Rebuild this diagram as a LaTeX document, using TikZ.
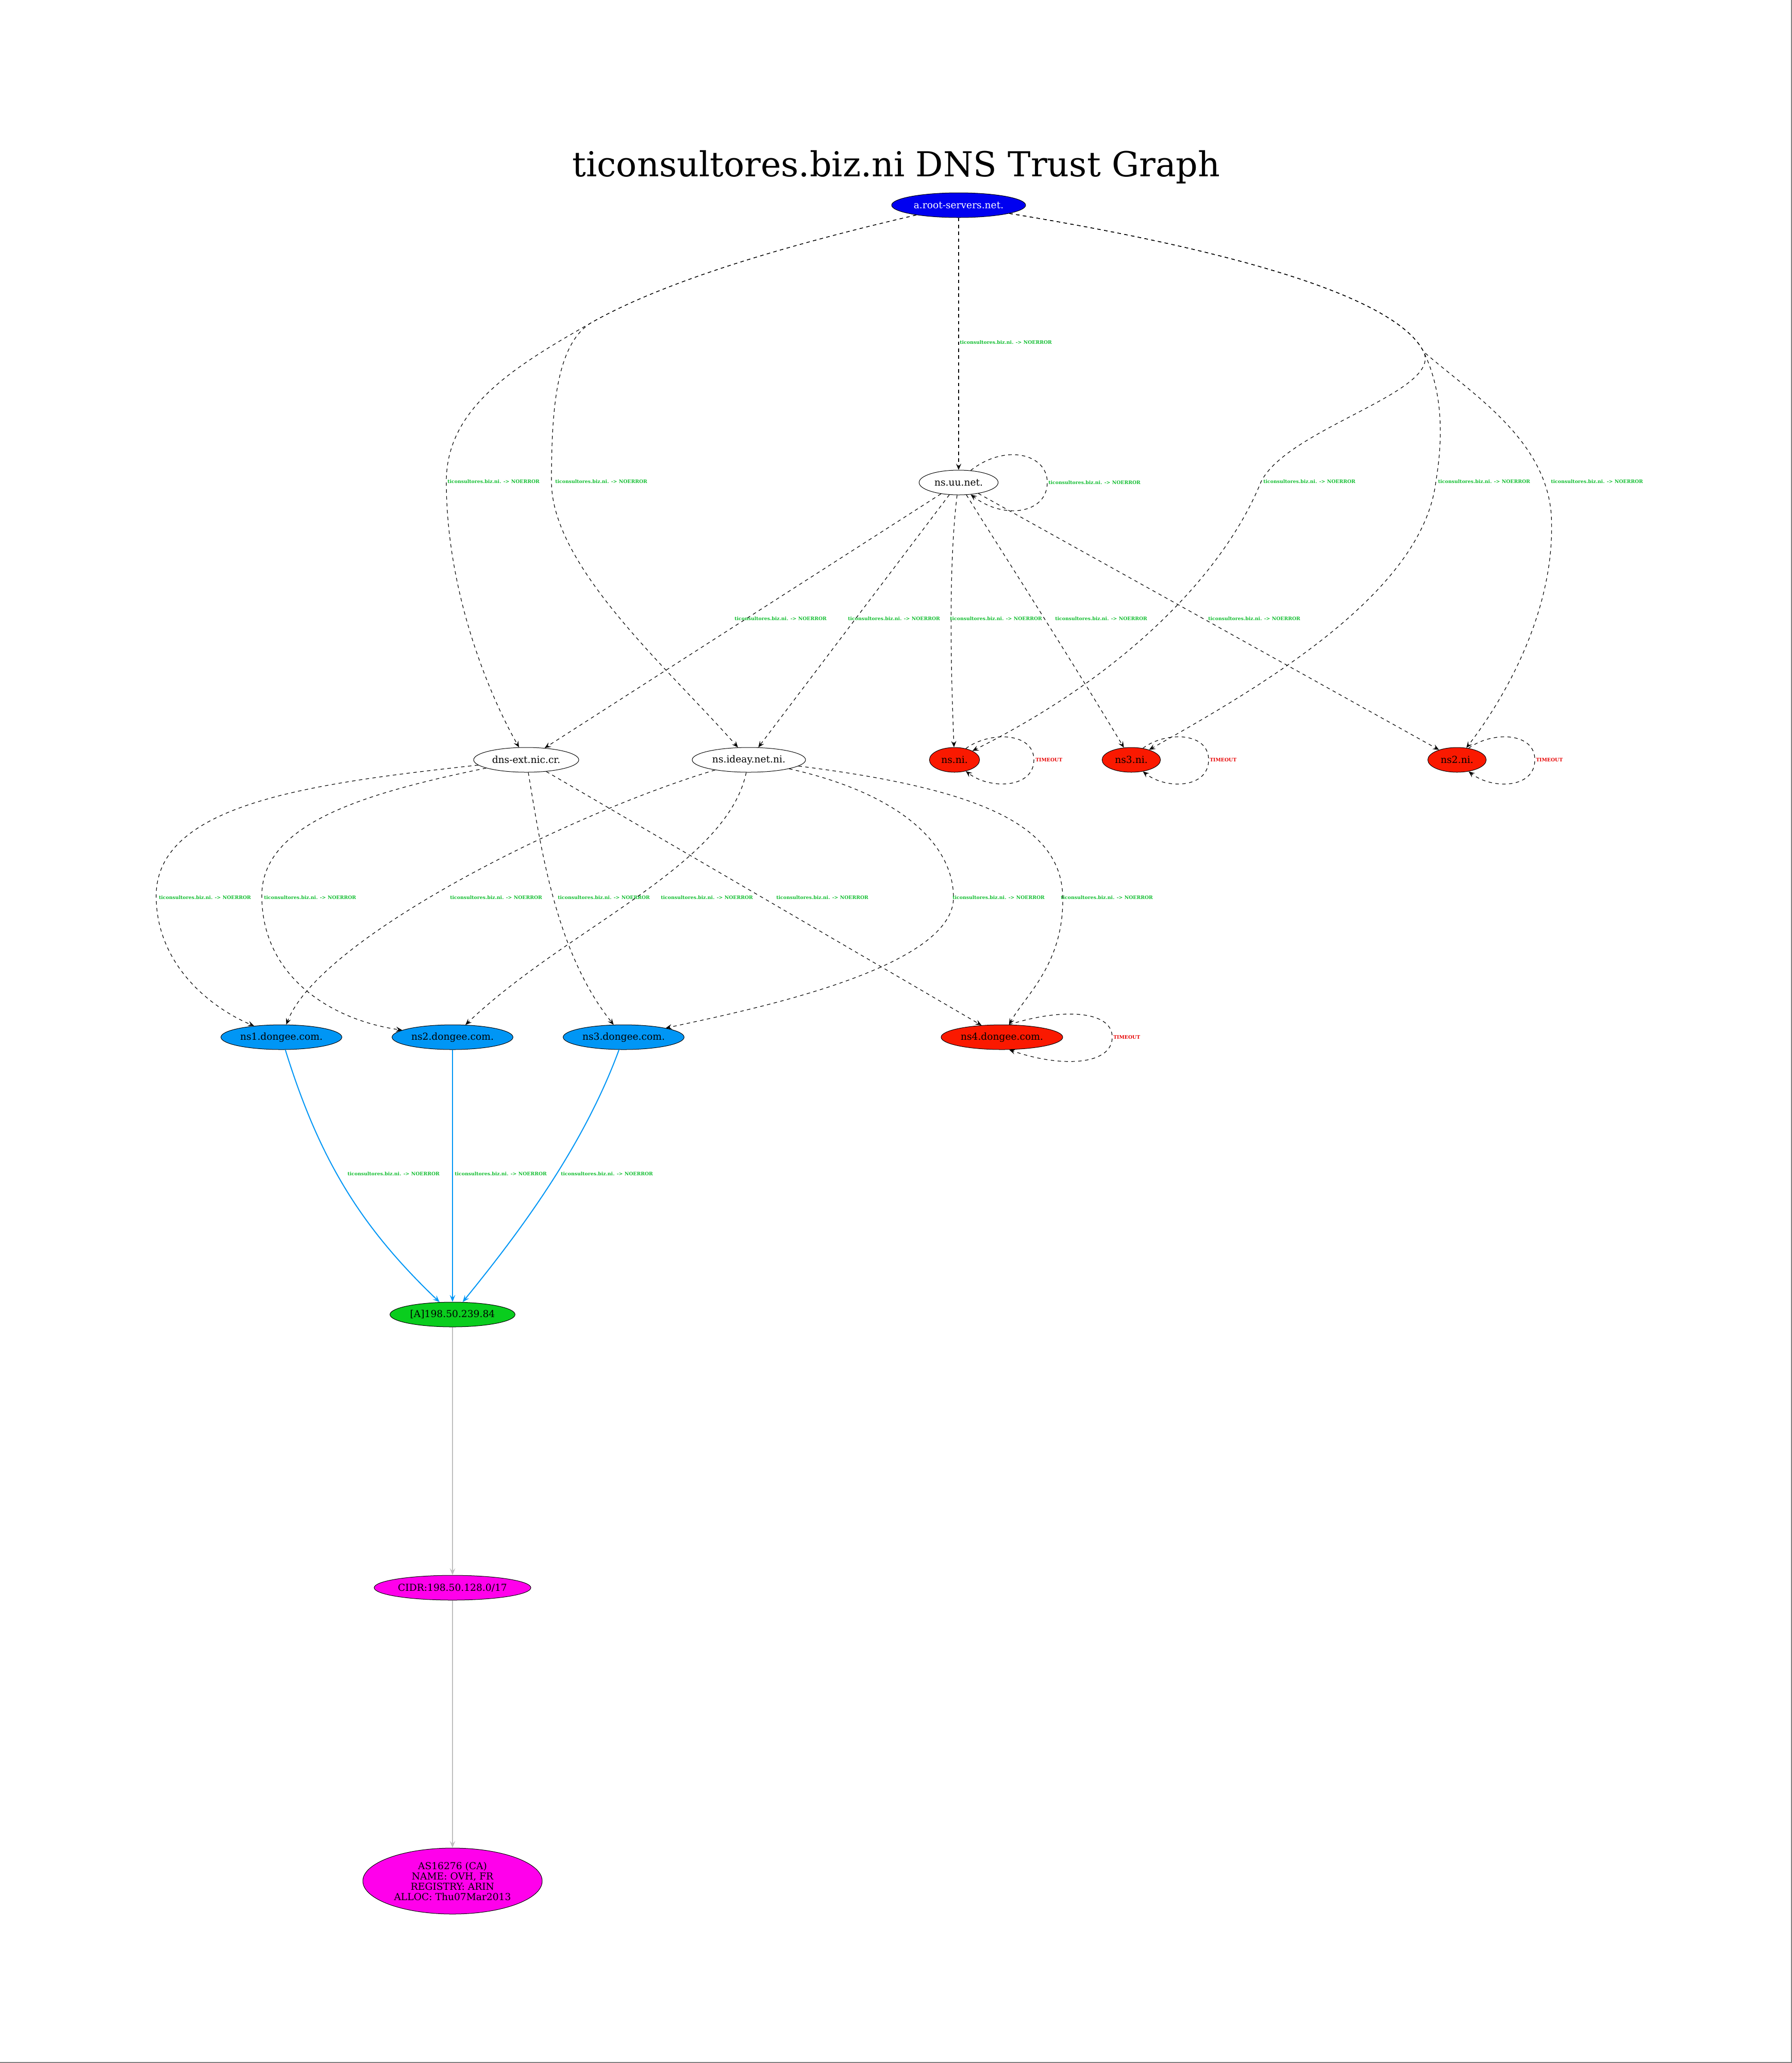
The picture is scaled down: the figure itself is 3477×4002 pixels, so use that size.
\documentclass[tikz,border=0pt]{standalone}
\usepackage{fontspec}
\setmainfont{DejaVu Serif}
\usetikzlibrary{arrows.meta,shapes.geometric}
\definecolor{rootblue}{RGB}{0,0,240}
\definecolor{errred}{RGB}{250,25,0}
\definecolor{dongblue}{RGB}{0,150,245}
\definecolor{agreen}{RGB}{10,205,30}
\definecolor{asmag}{RGB}{255,0,235}
\definecolor{lblgreen}{RGB}{20,190,50}
\definecolor{lblred}{RGB}{230,0,0}
\definecolor{edgegray}{RGB}{190,190,190}
\definecolor{framegray}{RGB}{128,128,128}
\begin{document}
\begin{tikzpicture}[x=0.75pt,y=-0.75pt,
  nd/.style={ellipse, draw=black, line width=0.75pt, inner sep=0pt, minimum height=36pt, font=\fontsize{14}{16}\selectfont, align=center},
  dep/.style={draw=black, line width=0.9pt, dash pattern=on 5pt off 5pt, -{Stealth[length=9pt,width=7.5pt,inset=3.5pt]}},
  blu/.style={draw=dongblue, line width=1.5pt, -{Stealth[length=10pt,width=8pt,inset=4pt]}},
  gry/.style={draw=edgegray, line width=1.2pt, -{Stealth[length=10pt,width=8pt,inset=4pt]}},
  elbl/.style={anchor=west, inner sep=0pt, text=lblgreen, font=\bfseries\fontsize{7}{8}\selectfont},
  tlbl/.style={anchor=west, inner sep=0pt, text=lblred, font=\bfseries\fontsize{7}{8}\selectfont}
]
\path[use as bounding box] (0,0) rectangle (3477,4002);
\draw[framegray, line width=1.5pt] (3476,0) -- (3476,4001) -- (0,4001);

\node[inner sep=0pt, font=\fontsize{50}{56}\selectfont] (title) at (1739,324) {ticonsultores.biz.ni DNS Trust Graph};

% nodes
\node[nd, fill=rootblue, text=white, minimum width=195pt] (root) at (1860,398) {a.root-servers.net.};
\node[nd, fill=white, minimum width=115pt] (uu) at (1860,936) {ns.uu.net.};
\node[nd, fill=white, minimum width=153pt] (dnsext) at (1021,1474) {dns-ext.nic.cr.};
\node[nd, fill=white, minimum width=165pt] (ideay) at (1453,1474) {ns.ideay.net.ni.};
\node[nd, fill=errred, minimum width=73pt] (nsni) at (1852,1474) {ns.ni.};
\node[nd, fill=errred, minimum width=85pt] (ns3ni) at (2195,1474) {ns3.ni.};
\node[nd, fill=errred, minimum width=85pt] (ns2ni) at (2827,1474) {ns2.ni.};
\node[nd, fill=dongblue, minimum width=176pt] (ns1d) at (546,2012) {ns1.dongee.com.};
\node[nd, fill=dongblue, minimum width=176pt] (ns2d) at (878,2012) {ns2.dongee.com.};
\node[nd, fill=dongblue, minimum width=176pt] (ns3d) at (1210,2012) {ns3.dongee.com.};
\node[nd, fill=errred, minimum width=177pt] (ns4d) at (1944,2012) {ns4.dongee.com.};
\node[nd, fill=agreen, minimum width=182pt] (aip) at (878,2550) {[A]198.50.239.84};
\node[nd, fill=asmag, minimum width=228pt] (cidr) at (878,3080) {CIDR:198.50.128.0/17};
\node[nd, fill=asmag, minimum width=261pt, minimum height=96pt, font=\fontsize{14}{15}\selectfont] (asn) at (878,3649) {AS16276 (CA)\\NAME: OVH, FR\\REGISTRY: ARIN\\ALLOC: Thu07Mar2013};

% root edges
\draw[dep] (root) -- (uu);
\node[elbl] (l1) at (1862,664) {ticonsultores.biz.ni. -> NOERROR};
\draw[dep] (root) .. controls (1550,470) and (1300,540) .. (1149,625) .. controls (1000,710) and (866,790) .. (866,934) .. controls (866,1150) and (950,1350) .. (dnsext);
\node[elbl] (l2) at (868,934) {ticonsultores.biz.ni. -> NOERROR};
\draw[dep] (root) .. controls (1550,470) and (1300,540) .. (1149,625) .. controls (1080,665) and (1070,790) .. (1070,934) .. controls (1070,1100) and (1300,1300) .. (ideay);
\node[elbl] (l3) at (1077,934) {ticonsultores.biz.ni. -> NOERROR};
\draw[dep] (root) .. controls (2300,470) and (2700,560) .. (2762,682) .. controls (2800,760) and (2500,830) .. (2447,934) .. controls (2380,1100) and (2200,1300) .. (nsni);
\node[elbl] (l4) at (2451,934) {ticonsultores.biz.ni. -> NOERROR};
\draw[dep] (root) .. controls (2300,470) and (2700,560) .. (2762,682) .. controls (2800,760) and (2800,850) .. (2786,934) .. controls (2760,1150) and (2450,1330) .. (ns3ni);
\node[elbl] (l5) at (2790,934) {ticonsultores.biz.ni. -> NOERROR};
\draw[dep] (root) .. controls (2300,470) and (2700,560) .. (2762,682) .. controls (2850,760) and (3000,850) .. (3010,1000) .. controls (3020,1200) and (2900,1380) .. (ns2ni);
\node[elbl] (l6) at (3009,934) {ticonsultores.biz.ni. -> NOERROR};

% uu edges
\draw[dep] (uu.45) .. controls (1950,860) and (2032,880) .. (2032,936) .. controls (2032,995) and (1950,1010) .. (uu.-45);
\node[elbl] (l7) at (2034,936) {ticonsultores.biz.ni. -> NOERROR};
\draw[dep] (uu) -- (dnsext);
\node[elbl] (l8) at (1425,1200) {ticonsultores.biz.ni. -> NOERROR};
\draw[dep] (uu) -- (ideay);
\node[elbl] (l9) at (1645,1200) {ticonsultores.biz.ni. -> NOERROR};
\draw[dep] (uu) .. controls (1840,1100) and (1845,1300) .. (nsni);
\node[elbl] (l10) at (1843,1200) {ticonsultores.biz.ni. -> NOERROR};
\draw[dep] (uu) .. controls (1950,1080) and (2060,1250) .. (ns3ni);
\node[elbl] (l11) at (2047,1200) {ticonsultores.biz.ni. -> NOERROR};
\draw[dep] (uu) -- (ns2ni);
\node[elbl] (l12) at (2344,1200) {ticonsultores.biz.ni. -> NOERROR};

% timeout loops
\draw[dep] (nsni.45) .. controls (1920,1418) and (2006,1420) .. (2006,1474) .. controls (2006,1530) and (1920,1532) .. (nsni.-45);
\node[tlbl] (t1) at (2009,1474) {TIMEOUT};
\draw[dep] (ns3ni.45) .. controls (2262,1418) and (2345,1420) .. (2345,1474) .. controls (2345,1530) and (2262,1532) .. (ns3ni.-45);
\node[tlbl] (t2) at (2347,1474) {TIMEOUT};
\draw[dep] (ns2ni.45) .. controls (2895,1418) and (2978,1420) .. (2978,1474) .. controls (2978,1530) and (2895,1532) .. (ns2ni.-45);
\node[tlbl] (t3) at (2980,1474) {TIMEOUT};
\draw[dep] (ns4d.60) .. controls (2060,1955) and (2158,1960) .. (2158,2012) .. controls (2158,2066) and (2060,2072) .. (ns4d.-60);
\node[tlbl] (t4) at (2160,2012) {TIMEOUT};

% dns-ext edges
\draw[dep] (dnsext) .. controls (600,1520) and (300,1560) .. (303,1741) .. controls (305,1880) and (420,1960) .. (ns1d);
\node[elbl] (l13) at (308,1741) {ticonsultores.biz.ni. -> NOERROR};
\draw[dep] (dnsext) .. controls (700,1540) and (505,1600) .. (508,1741) .. controls (510,1900) and (650,1980) .. (ns2d);
\node[elbl] (l14) at (512,1741) {ticonsultores.biz.ni. -> NOERROR};
\draw[dep] (dnsext) .. controls (1050,1650) and (1080,1850) .. (ns3d);
\node[elbl] (l15) at (1082,1741) {ticonsultores.biz.ni. -> NOERROR};
\draw[dep] (dnsext) -- (ns4d);
\node[elbl] (l16) at (1506,1741) {ticonsultores.biz.ni. -> NOERROR};

% ideay edges
\draw[dep] (ideay) .. controls (1100,1580) and (620,1820) .. (ns1d);
\node[elbl] (l17) at (873,1741) {ticonsultores.biz.ni. -> NOERROR};
\draw[dep] (ideay) .. controls (1410,1680) and (1100,1800) .. (ns2d);
\node[elbl] (l18) at (1282,1741) {ticonsultores.biz.ni. -> NOERROR};
\draw[dep] (ideay) .. controls (1750,1540) and (1850,1640) .. (1850,1741) .. controls (1850,1880) and (1450,1960) .. (ns3d);
\node[elbl] (l19) at (1848,1741) {ticonsultores.biz.ni. -> NOERROR};
\draw[dep] (ideay) .. controls (1900,1530) and (2060,1600) .. (2062,1741) .. controls (2064,1870) and (1990,1930) .. (ns4d);
\node[elbl] (l20) at (2058,1741) {ticonsultores.biz.ni. -> NOERROR};

% dongee -> A
\draw[blu] (ns1d) .. controls (620,2250) and (700,2380) .. (aip);
\node[elbl] (l21) at (674,2277) {ticonsultores.biz.ni. -> NOERROR};
\draw[blu] (ns2d) -- (aip);
\node[elbl] (l22) at (882,2277) {ticonsultores.biz.ni. -> NOERROR};
\draw[blu] (ns3d) .. controls (1130,2230) and (1000,2400) .. (aip);
\node[elbl] (l23) at (1088,2277) {ticonsultores.biz.ni. -> NOERROR};

% A -> CIDR -> AS
\draw[gry] (aip) -- (cidr);
\draw[gry] (cidr) -- (asn);
\end{tikzpicture}
\end{document}
